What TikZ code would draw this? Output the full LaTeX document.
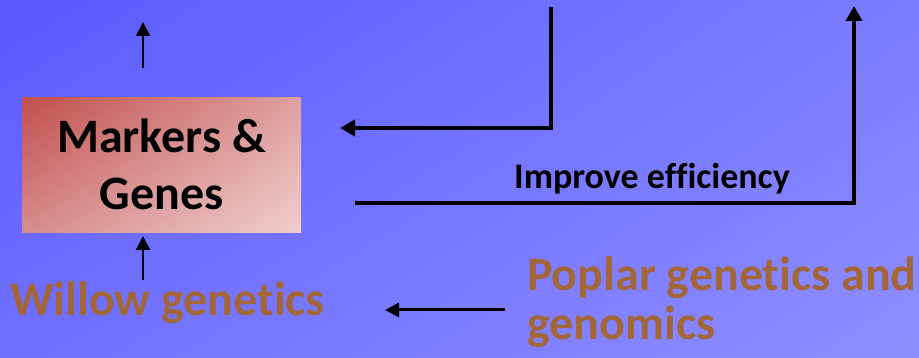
\documentclass[tikz,border=0pt]{standalone}
\usepackage{fontspec}
\setmainfont{Carlito}[Ligatures=NoCommon]
\usetikzlibrary{arrows.meta,shadings}
\definecolor{bgtl}{RGB}{90,90,255}
\definecolor{bgtr}{RGB}{124,124,255}
\definecolor{bgbl}{RGB}{112,112,255}
\definecolor{bgbr}{RGB}{142,142,255}
\definecolor{boxtl}{RGB}{192,80,77}
\definecolor{boxtr}{RGB}{222,160,160}
\definecolor{boxbl}{RGB}{214,140,140}
\definecolor{boxbr}{RGB}{240,206,206}
\definecolor{wood}{RGB}{163,102,56}
\begin{document}
\begin{tikzpicture}[x=1pt, y=-1pt,
  bigtxt/.style={inner sep=0pt, font=\fontsize{48}{52}\selectfont\bfseries},
  thick arr/.style={line width=4pt, -{Triangle[length=15pt,width=16pt]}},
  thin arr/.style={line width=2pt, -{Triangle[length=14pt,width=14pt]}}]
\shade[upper left=bgtl, upper right=bgtr, lower left=bgbl, lower right=bgbr] (0,0) rectangle (919,358);
\node[shade, upper left=boxtl, upper right=boxtr, lower left=boxbl, lower right=boxbr, minimum width=279pt, minimum height=135pt, inner sep=0pt] (markers) at (161.5,165.5){};
\node[bigtxt, align=center, font=\fontsize{48}{57}\selectfont\bfseries, anchor=base] (markerstxt) at (161.5,210){Markers \&\\Genes};
\node[bigtxt, text=wood, anchor=base west] (willow) at (10,316){Willow genetics};
\node[bigtxt, text=wood, anchor=base west, align=left, font=\fontsize{48}{50}\selectfont\bfseries] (poplar) at (527,340){Poplar genetics and\\genomics};
\coordinate (upend) at (143,22);
\coordinate (upstart) at (143,68);
\draw[thin arr] (upstart) -- (upend);
\coordinate (willowtop) at (143,280);
\coordinate (markersbot) at (143,236);
\draw[thin arr] (willowtop) -- (markersbot);
\coordinate (poplarend) at (505,310);
\coordinate (willowend) at (385,310);
\draw[line width=3pt, -{Triangle[length=14pt,width=14pt]}] (poplarend) -- (willowend);
\coordinate (fbtop) at (551,7);
\coordinate (fbend) at (340,128);
\draw[thick arr] (fbtop) |- (fbend);
\coordinate (effstart) at (355,203);
\coordinate (effend) at (854,6);
\draw[thick arr] (effstart) -| (effend);
\node[inner sep=0pt, anchor=base, font=\fontsize{36}{40}\selectfont\bfseries] (efflabel) at (652,189){Improve efficiency};
\end{tikzpicture}
\end{document}
